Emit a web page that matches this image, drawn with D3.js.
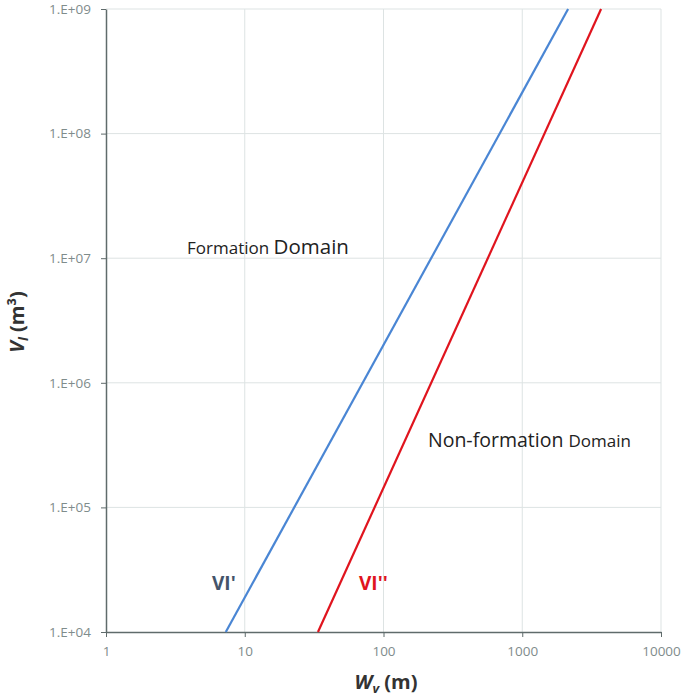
<!DOCTYPE html>
<html>
<head>
<meta charset="utf-8">
<script src="https://cdn.jsdelivr.net/npm/d3@7"></script>
<style>
  body { margin: 0; background: #fff; }
  svg text { font-family: "Open Sans", Lato, sans-serif; }
</style>
</head>
<body>
<div id="chart"></div>
<script>
// chart values
const xTicks = [1, 10, 100, 1000, 10000];
const yTicks = [1e4, 1e5, 1e6, 1e7, 1e8, 1e9];
const yTickLabels = ['1.E+04', '1.E+05', '1.E+06', '1.E+07', '1.E+08', '1.E+09'];
const lineVI1 = [[7.3, 1e4], [2140, 1e9]];
const lineVI2 = [[33.7, 1e4], [3700, 1e9]];

const width = 685;
const height = 696;
const margin = { top: 9, right: 24, bottom: 64, left: 106 };

const svg = d3.select('#chart')
    .append('svg')
    .attr('width', width)
    .attr('height', height);

const x = d3.scaleLog()
    .domain([1, 10000])
    .range([margin.left, width - margin.right]);

const y = d3.scaleLog()
    .domain([1e4, 1e9])
    .range([height - margin.bottom, margin.top]);

// gridlines
svg.append('g')
    .selectAll('line.vgrid')
    .data(xTicks.slice(1))
    .enter()
    .append('line')
    .attr('x1', d => x(d)).attr('x2', d => x(d))
    .attr('y1', margin.top).attr('y2', height - margin.bottom)
    .attr('stroke', '#dde3e3').attr('stroke-width', 1);

svg.append('g')
    .selectAll('line.hgrid')
    .data(yTicks.slice(1))
    .enter()
    .append('line')
    .attr('x1', margin.left).attr('x2', width - margin.right)
    .attr('y1', d => y(d)).attr('y2', d => y(d))
    .attr('stroke', '#dde3e3').attr('stroke-width', 1);

// axes
const xAxis = d3.axisBottom(x)
    .tickValues(xTicks)
    .tickFormat(d3.format('d'))
    .tickSize(5)
    .tickSizeOuter(0);

const gx = svg.append('g')
    .attr('transform', `translate(0, ${height - margin.bottom})`)
    .call(xAxis);
gx.select('.domain').attr('stroke', '#5f6b6b').attr('stroke-width', 1.5);
gx.selectAll('.tick line').attr('stroke', '#5f6b6b').attr('y2', 5);
gx.selectAll('.tick text')
    .attr('fill', '#7f8c8c')
    .style('font-size', '13.5px')
    .attr('dy', '1.15em');

const yAxis = d3.axisLeft(y)
    .tickValues(yTicks)
    .tickFormat((d, i) => yTickLabels[i])
    .tickSize(5)
    .tickSizeOuter(0);

const gy = svg.append('g')
    .attr('transform', `translate(${margin.left}, 0)`)
    .call(yAxis);
gy.select('.domain').attr('stroke', '#5f6b6b').attr('stroke-width', 1.5);
gy.selectAll('.tick line').attr('stroke', '#5f6b6b');
gy.selectAll('.tick text')
    .attr('fill', '#7f8c8c')
    .style('font-size', '13.5px')
    .attr('x', -15);

// the two boundary lines
const line = d3.line()
    .x(d => x(d[0]))
    .y(d => y(d[1]));

svg.append('path')
    .datum(lineVI1)
    .attr('d', line)
    .attr('fill', 'none')
    .attr('stroke', '#4a86d4')
    .attr('stroke-width', 2.2);

svg.append('path')
    .datum(lineVI2)
    .attr('d', line)
    .attr('fill', 'none')
    .attr('stroke', '#e0141e')
    .attr('stroke-width', 2.2);

// labels
const t1 = svg.append('text').attr('x', 187).attr('y', 254).attr('fill', '#222');
t1.append('tspan').style('font-size', '17px').text('Formation ');
t1.append('tspan').style('font-size', '20.5px').text('Domain');

const t2 = svg.append('text').attr('x', 428).attr('y', 447).attr('fill', '#222');
t2.append('tspan').style('font-size', '19.5px').text('Non-formation ');
t2.append('tspan').style('font-size', '17px').text('Domain');

svg.append('text')
    .attr('x', 212).attr('y', 590)
    .attr('fill', '#44546a')
    .style('font-size', '19px').style('font-weight', 'bold')
    .text("VI'");

svg.append('text')
    .attr('x', 359).attr('y', 590)
    .attr('fill', '#e0141e')
    .style('font-size', '19px').style('font-weight', 'bold')
    .text("VI''");

// axis titles
const xt = svg.append('text')
    .attr('x', 386).attr('y', 689)
    .attr('text-anchor', 'middle')
    .attr('fill', '#333')
    .style('font-size', '20px').style('font-weight', 'bold');
xt.append('tspan').style('font-style', 'italic').text('W');
xt.append('tspan').style('font-style', 'italic').style('font-size', '13px').attr('dy', 4).text('v');
xt.append('tspan').attr('dy', -4).text(' (m)');

const yt = svg.append('text')
    .attr('transform', 'translate(24, 322) rotate(-90)')
    .attr('text-anchor', 'middle')
    .attr('fill', '#333')
    .style('font-size', '20px').style('font-weight', 'bold');
yt.append('tspan').style('font-style', 'italic').text('V');
yt.append('tspan').style('font-style', 'italic').style('font-size', '13px').attr('dy', 4).text('l');
yt.append('tspan').attr('dy', -4).text(' (m³)');
</script>
</body>
</html>
